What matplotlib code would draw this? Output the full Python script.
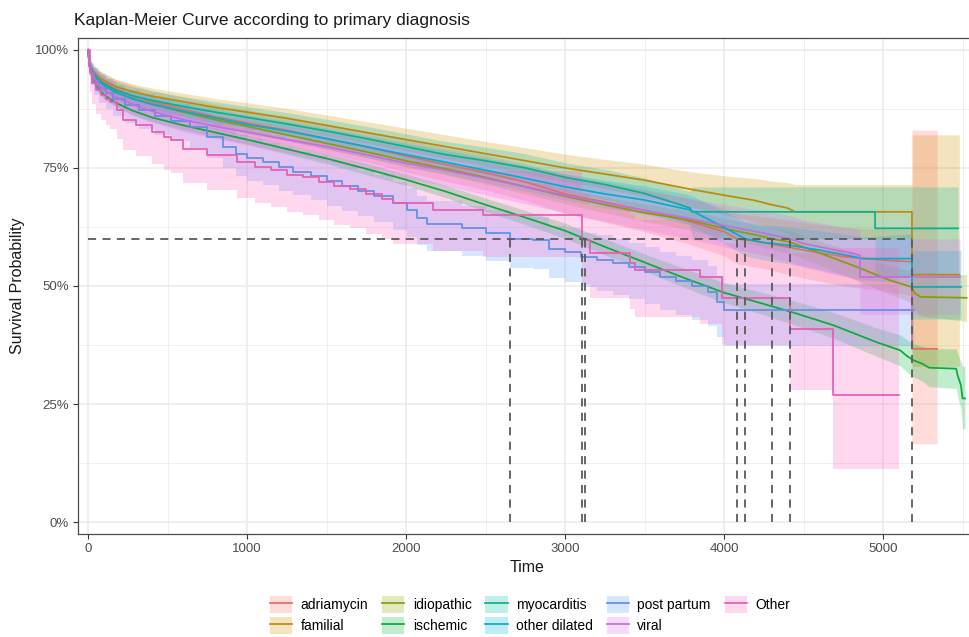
import matplotlib
matplotlib.use("Agg")
import matplotlib.pyplot as plt
from matplotlib.patches import Patch
from matplotlib.lines import Line2D
from matplotlib.colors import to_rgb

plt.rcParams['font.family'] = ['Liberation Sans', 'DejaVu Sans']

# ---------------- data ----------------
groups = ["adriamycin", "familial", "idiopathic", "ischemic", "myocarditis",
          "other dilated", "post partum", "viral", "Other"]
colors = ["#F8766D", "#D39200", "#93AA00", "#00BA38", "#00C19F",
          "#00B9E3", "#619CFF", "#DB72FB", "#FF61C3"]

t_adr = [0, 10, 30, 60, 100, 175, 275, 400, 600, 800, 1000, 1250, 1500, 1750, 2000, 2250, 2500, 2750, 3000, 3250, 3500, 3750, 4000, 4082, 4250, 4500, 4750, 5000, 5182, 5182, 5340]
s_adr = [1.0, 0.965, 0.952, 0.94, 0.93, 0.916, 0.903, 0.89, 0.874, 0.858, 0.845, 0.83, 0.812, 0.795, 0.775, 0.757, 0.74, 0.72, 0.695, 0.678, 0.66, 0.64, 0.615, 0.60, 0.592, 0.576, 0.562, 0.555, 0.551, 0.367, 0.367]
lo_adr = [1.0, 0.948, 0.933, 0.92, 0.909, 0.894, 0.88, 0.866, 0.848, 0.831, 0.817, 0.801, 0.781, 0.763, 0.741, 0.722, 0.703, 0.681, 0.654, 0.635, 0.615, 0.592, 0.564, 0.547, 0.537, 0.517, 0.5, 0.49, 0.48, 0.166, 0.166]
hi_adr = [1.0, 0.982, 0.971, 0.96, 0.951, 0.938, 0.926, 0.914, 0.9, 0.885, 0.873, 0.859, 0.843, 0.827, 0.809, 0.792, 0.777, 0.759, 0.736, 0.721, 0.705, 0.688, 0.666, 0.653, 0.647, 0.635, 0.624, 0.62, 0.62, 0.83, 0.83]

t_fam = [0, 10, 30, 60, 100, 175, 275, 400, 600, 800, 1000, 1250, 1500, 1750, 2000, 2250, 2500, 2654, 3000, 3250, 3500, 3786, 4038, 4182, 4300, 4400, 4447, 5182, 5182, 5480]
s_fam = [1.0, 0.972, 0.955, 0.945, 0.935, 0.922, 0.912, 0.902, 0.89, 0.878, 0.868, 0.855, 0.84, 0.825, 0.81, 0.795, 0.78, 0.771, 0.75, 0.737, 0.724, 0.705, 0.69, 0.682, 0.672, 0.665, 0.657, 0.657, 0.524, 0.524]
lo_fam = [1.0, 0.962, 0.943, 0.932, 0.921, 0.907, 0.896, 0.885, 0.872, 0.859, 0.848, 0.834, 0.818, 0.802, 0.786, 0.77, 0.754, 0.744, 0.721, 0.706, 0.69, 0.668, 0.648, 0.636, 0.622, 0.611, 0.60, 0.60, 0.33, 0.33]
hi_fam = [1.0, 0.982, 0.967, 0.958, 0.949, 0.937, 0.928, 0.919, 0.908, 0.897, 0.888, 0.876, 0.862, 0.848, 0.834, 0.82, 0.806, 0.798, 0.779, 0.768, 0.758, 0.742, 0.732, 0.728, 0.722, 0.719, 0.715, 0.715, 0.82, 0.82]

t_idi = [0, 10, 30, 60, 100, 175, 275, 400, 600, 800, 1000, 1250, 1500, 1750, 2000, 2250, 2500, 2750, 3000, 3250, 3500, 3786, 4000, 4200, 4302, 4415, 4600, 4800, 5044, 5180, 5200, 5233, 5526]
s_idi = [1.0, 0.97, 0.95, 0.935, 0.925, 0.91, 0.897, 0.885, 0.868, 0.852, 0.838, 0.82, 0.802, 0.784, 0.765, 0.748, 0.73, 0.71, 0.69, 0.672, 0.655, 0.639, 0.622, 0.608, 0.60, 0.593, 0.57, 0.545, 0.512, 0.498, 0.485, 0.477, 0.475]
lo_idi = [1.0, 0.965, 0.944, 0.928, 0.917, 0.902, 0.888, 0.876, 0.858, 0.842, 0.828, 0.809, 0.79, 0.772, 0.752, 0.735, 0.716, 0.695, 0.674, 0.655, 0.637, 0.619, 0.601, 0.586, 0.577, 0.569, 0.544, 0.517, 0.482, 0.465, 0.45, 0.437, 0.425]
hi_idi = [1.0, 0.975, 0.956, 0.942, 0.933, 0.918, 0.906, 0.894, 0.878, 0.862, 0.848, 0.831, 0.814, 0.796, 0.778, 0.761, 0.744, 0.725, 0.706, 0.689, 0.673, 0.659, 0.643, 0.63, 0.623, 0.617, 0.596, 0.573, 0.542, 0.531, 0.52, 0.517, 0.525]

t_isc = [0, 10, 30, 60, 100, 175, 275, 400, 600, 800, 1000, 1250, 1500, 1750, 2000, 2250, 2500, 2750, 3000, 3250, 3500, 3750, 4000, 4250, 4415, 4688, 4960, 5107, 5150, 5190, 5250, 5290, 5460, 5470, 5490, 5500, 5516]
s_isc = [1.0, 0.965, 0.94, 0.92, 0.905, 0.888, 0.872, 0.857, 0.84, 0.825, 0.81, 0.79, 0.77, 0.748, 0.725, 0.70, 0.672, 0.645, 0.617, 0.583, 0.55, 0.517, 0.486, 0.462, 0.446, 0.417, 0.381, 0.364, 0.352, 0.343, 0.335, 0.327, 0.325, 0.31, 0.29, 0.262, 0.262]
lo_isc = [1.0, 0.959, 0.933, 0.912, 0.897, 0.88, 0.863, 0.848, 0.831, 0.815, 0.80, 0.779, 0.759, 0.736, 0.713, 0.687, 0.658, 0.63, 0.601, 0.566, 0.532, 0.497, 0.465, 0.439, 0.421, 0.39, 0.351, 0.331, 0.318, 0.308, 0.298, 0.287, 0.283, 0.265, 0.24, 0.198, 0.198]
hi_isc = [1.0, 0.971, 0.947, 0.928, 0.913, 0.896, 0.881, 0.866, 0.849, 0.835, 0.82, 0.801, 0.781, 0.76, 0.737, 0.713, 0.686, 0.66, 0.633, 0.60, 0.568, 0.537, 0.507, 0.485, 0.471, 0.444, 0.411, 0.397, 0.386, 0.378, 0.372, 0.367, 0.367, 0.355, 0.34, 0.33, 0.33]

t_myo = [0, 10, 30, 60, 100, 175, 275, 400, 600, 800, 1000, 1250, 1500, 1750, 2000, 2250, 2500, 2750, 3000, 3250, 3500, 3650, 3786, 3800, 4950, 4950, 5472]
s_myo = [1.0, 0.968, 0.952, 0.94, 0.928, 0.915, 0.903, 0.893, 0.88, 0.868, 0.857, 0.843, 0.828, 0.812, 0.795, 0.778, 0.765, 0.75, 0.73, 0.715, 0.696, 0.68, 0.665, 0.657, 0.657, 0.622, 0.622]
lo_myo = [1.0, 0.955, 0.937, 0.924, 0.911, 0.897, 0.884, 0.873, 0.859, 0.846, 0.834, 0.819, 0.803, 0.786, 0.768, 0.75, 0.736, 0.72, 0.699, 0.683, 0.663, 0.646, 0.63, 0.60, 0.60, 0.52, 0.52]
hi_myo = [1.0, 0.981, 0.967, 0.956, 0.945, 0.933, 0.922, 0.913, 0.901, 0.89, 0.88, 0.867, 0.853, 0.838, 0.822, 0.806, 0.794, 0.78, 0.761, 0.747, 0.729, 0.714, 0.70, 0.71, 0.71, 0.71, 0.71]

t_odi = [0, 10, 30, 60, 100, 175, 275, 400, 600, 800, 1000, 1250, 1500, 1750, 2000, 2250, 2500, 2750, 3000, 3250, 3500, 3786, 3996, 4132, 4250, 4415, 4600, 4875, 5182, 5182, 5490]
s_odi = [1.0, 0.968, 0.95, 0.937, 0.925, 0.91, 0.897, 0.885, 0.87, 0.856, 0.842, 0.828, 0.812, 0.795, 0.778, 0.762, 0.745, 0.728, 0.71, 0.695, 0.682, 0.661, 0.625, 0.60, 0.592, 0.586, 0.576, 0.558, 0.558, 0.498, 0.498]
lo_odi = [1.0, 0.958, 0.938, 0.924, 0.911, 0.895, 0.881, 0.868, 0.852, 0.837, 0.822, 0.807, 0.79, 0.772, 0.754, 0.737, 0.719, 0.701, 0.682, 0.666, 0.652, 0.629, 0.591, 0.564, 0.555, 0.547, 0.535, 0.512, 0.505, 0.43, 0.43]
hi_odi = [1.0, 0.978, 0.962, 0.95, 0.939, 0.925, 0.913, 0.902, 0.888, 0.875, 0.862, 0.849, 0.834, 0.818, 0.802, 0.787, 0.771, 0.755, 0.738, 0.724, 0.712, 0.693, 0.659, 0.636, 0.629, 0.625, 0.617, 0.604, 0.61, 0.575, 0.575]

t_pp = [0, 8, 20, 40, 70, 110, 160, 230, 320, 420, 520, 640, 746, 850, 930, 998, 1100, 1200, 1291, 1400, 1500, 1600, 1700, 1800, 1920, 2004, 2070, 2130, 2350, 2500, 2654, 2800, 2900, 3000, 3100, 3200, 3300, 3400, 3500, 3600, 3700, 3800, 3900, 3953, 4000, 5192]
s_pp = [1.0, 0.965, 0.95, 0.935, 0.92, 0.908, 0.895, 0.883, 0.872, 0.86, 0.85, 0.836, 0.816, 0.795, 0.78, 0.77, 0.762, 0.752, 0.742, 0.732, 0.722, 0.712, 0.702, 0.69, 0.675, 0.661, 0.645, 0.632, 0.622, 0.612, 0.60, 0.597, 0.579, 0.572, 0.562, 0.556, 0.548, 0.54, 0.53, 0.52, 0.51, 0.50, 0.488, 0.466, 0.449, 0.449]
lo_pp = [1.0, 0.945, 0.925, 0.905, 0.888, 0.874, 0.859, 0.845, 0.832, 0.819, 0.808, 0.793, 0.771, 0.749, 0.733, 0.722, 0.713, 0.702, 0.692, 0.681, 0.67, 0.659, 0.648, 0.635, 0.619, 0.604, 0.587, 0.574, 0.563, 0.552, 0.539, 0.535, 0.516, 0.508, 0.497, 0.49, 0.481, 0.472, 0.461, 0.45, 0.439, 0.428, 0.415, 0.392, 0.374, 0.374]
hi_pp = [1.0, 0.982, 0.972, 0.961, 0.948, 0.938, 0.926, 0.915, 0.906, 0.895, 0.886, 0.873, 0.854, 0.834, 0.82, 0.811, 0.803, 0.794, 0.784, 0.775, 0.765, 0.756, 0.746, 0.735, 0.72, 0.707, 0.691, 0.679, 0.669, 0.66, 0.648, 0.646, 0.628, 0.622, 0.612, 0.607, 0.599, 0.592, 0.582, 0.573, 0.563, 0.554, 0.542, 0.521, 0.504, 0.504]

t_vir = [0, 10, 30, 60, 100, 175, 275, 400, 600, 800, 1000, 1250, 1500, 1750, 2000, 2250, 2500, 2750, 3000, 3250, 3500, 3750, 4000, 4250, 4415, 4500, 4600, 4700, 4800, 4855, 4855, 5484]
s_vir = [1.0, 0.962, 0.945, 0.93, 0.915, 0.9, 0.885, 0.87, 0.852, 0.838, 0.826, 0.81, 0.795, 0.778, 0.76, 0.745, 0.728, 0.71, 0.692, 0.676, 0.66, 0.645, 0.628, 0.612, 0.60, 0.59, 0.583, 0.576, 0.57, 0.565, 0.519, 0.519]
lo_vir = [1.0, 0.947, 0.928, 0.912, 0.896, 0.879, 0.863, 0.847, 0.827, 0.812, 0.799, 0.782, 0.765, 0.747, 0.728, 0.712, 0.693, 0.674, 0.655, 0.637, 0.619, 0.602, 0.583, 0.565, 0.551, 0.54, 0.532, 0.524, 0.517, 0.51, 0.44, 0.44]
hi_vir = [1.0, 0.977, 0.962, 0.948, 0.934, 0.921, 0.907, 0.893, 0.877, 0.864, 0.853, 0.838, 0.825, 0.809, 0.792, 0.778, 0.763, 0.746, 0.729, 0.715, 0.701, 0.688, 0.673, 0.659, 0.649, 0.64, 0.634, 0.628, 0.623, 0.62, 0.60, 0.60]

t_oth = [0, 10, 25, 50, 80, 110, 138, 180, 220, 300, 400, 480, 520, 600, 746, 935, 1050, 1150, 1250, 1350, 1450, 1550, 1650, 1750, 1850, 1920, 2171, 2487, 3105, 3158, 3409, 3440, 3849, 3985, 4415, 4688, 5100]
s_oth = [1.0, 0.95, 0.93, 0.915, 0.905, 0.895, 0.89, 0.872, 0.851, 0.84, 0.825, 0.815, 0.809, 0.791, 0.777, 0.763, 0.752, 0.745, 0.735, 0.73, 0.72, 0.712, 0.705, 0.695, 0.685, 0.675, 0.661, 0.65, 0.597, 0.569, 0.548, 0.533, 0.519, 0.475, 0.41, 0.27, 0.27]
lo_oth = [1.0, 0.91, 0.885, 0.865, 0.852, 0.84, 0.833, 0.812, 0.788, 0.775, 0.758, 0.746, 0.739, 0.719, 0.703, 0.687, 0.675, 0.667, 0.656, 0.65, 0.639, 0.63, 0.622, 0.611, 0.6, 0.589, 0.574, 0.561, 0.504, 0.474, 0.451, 0.435, 0.42, 0.375, 0.28, 0.113, 0.113]
hi_oth = [1.0, 0.975, 0.962, 0.952, 0.945, 0.938, 0.935, 0.921, 0.905, 0.896, 0.884, 0.876, 0.871, 0.856, 0.845, 0.834, 0.825, 0.82, 0.812, 0.808, 0.8, 0.794, 0.788, 0.78, 0.772, 0.764, 0.752, 0.744, 0.695, 0.67, 0.652, 0.639, 0.627, 0.59, 0.57, 0.58, 0.58]

# survival level of the reference lines and the times where curves reach it
ref_level = 0.6
cross_times = [2654, 3105, 3125, 4082, 4132, 4302, 4415, 5182]

x_ticks = [0, 1000, 2000, 3000, 4000, 5000]
y_ticks = [0, 0.25, 0.5, 0.75, 1.0]
y_ticklabels = ["0%", "25%", "50%", "75%", "100%"]

series = [
    (t_adr, s_adr, lo_adr, hi_adr, None),
    (t_fam, s_fam, lo_fam, hi_fam, None),
    (t_idi, s_idi, lo_idi, hi_idi, None),
    (t_isc, s_isc, lo_isc, hi_isc, None),
    (t_myo, s_myo, lo_myo, hi_myo, None),
    (t_odi, s_odi, lo_odi, hi_odi, None),
    (t_pp, s_pp, lo_pp, hi_pp, "post"),
    (t_vir, s_vir, lo_vir, hi_vir, None),
    (t_oth, s_oth, lo_oth, hi_oth, "post"),
]


def muted(c, k=0.15):
    r, g, b = to_rgb(c)
    m = 0.3
    return (r * (1 - k) + m * k, g * (1 - k) + m * k, b * (1 - k) + m * k)


line_colors = [muted(c) for c in colors]

# ---------------- figure ----------------
W, H = 970, 637
fig = plt.figure(figsize=(W / 100, H / 100), dpi=100)
ax = fig.add_axes([78 / W, 1 - 534 / H, (W - 78) / W, (534 - 38) / H])

grid_c = "#EBEBEB"
for v in [500, 1500, 2500, 3500, 4500, 5500]:
    ax.axvline(v, color=grid_c, lw=0.55, zorder=0)
for v in [0.125, 0.375, 0.625, 0.875]:
    ax.axhline(v, color=grid_c, lw=0.55, zorder=0)
for v in x_ticks:
    ax.axvline(v, color=grid_c, lw=1.1, zorder=0)
for v in y_ticks:
    ax.axhline(v, color=grid_c, lw=1.1, zorder=0)

for (t, s, lo, hi, st), c in zip(series, colors):
    if st == "post":
        ax.fill_between(t, lo, hi, step="post", color=c, alpha=0.25, lw=0, zorder=1)
    else:
        ax.fill_between(t, lo, hi, color=c, alpha=0.25, lw=0, zorder=1)

for (t, s, lo, hi, st), c in zip(series, line_colors):
    if st == "post":
        ax.step(t, s, where="post", color=c, lw=1.25, zorder=3)
    else:
        ax.plot(t, s, color=c, lw=1.25, zorder=3)

dash_c = "#5A5A5A"
ax.plot([0, max(cross_times)], [ref_level, ref_level], color=dash_c, lw=1.3,
        dashes=(4.5, 3.5), zorder=4)
for ct in cross_times:
    ax.plot([ct, ct], [0, ref_level], color=dash_c, lw=1.3, dashes=(4.5, 3.5), zorder=4)

ax.set_xlim(-63, 5547)
ax.set_ylim(-0.025, 1.025)
ax.set_xticks(x_ticks)
ax.set_xticklabels([str(v) for v in x_ticks])
ax.set_yticks(y_ticks)
ax.set_yticklabels(y_ticklabels)
ax.tick_params(axis="both", direction="out", length=3.5, width=0.8,
               color="#333333", labelcolor="#4D4D4D", labelsize=9.5, pad=3)
for side in ["left", "bottom", "top"]:
    ax.spines[side].set_color("#4D4D4D")
    ax.spines[side].set_linewidth(0.9)
ax.spines["right"].set_visible(False)
ax.set_facecolor("white")

fig.text(74 / W, 1 - 20 / H, "Kaplan-Meier Curve according to primary diagnosis",
         fontsize=12.5, ha="left", va="center", color="#1A1A1A")
fig.text(18 / W, 1 - 286 / H, "Survival Probability", rotation=90, fontsize=11.5,
         ha="center", va="center", color="#1A1A1A")
fig.text(527 / W, 1 - 567 / H, "Time", fontsize=11.5, ha="center", va="center",
         color="#1A1A1A")

handles = [(Patch(facecolor=c, alpha=0.25, edgecolor="none"),
            Line2D([], [], color=lc, lw=1.25)) for c, lc in zip(colors, line_colors)]
fig.legend(handles, groups, ncol=5, loc="center",
           bbox_to_anchor=(530 / W, 1 - 615 / H), frameon=False, fontsize=10,
           handlelength=1.6, handleheight=1.45, columnspacing=1.0,
           handletextpad=0.6, labelspacing=0.3, borderaxespad=0)

fig.savefig("out.png", dpi=100, facecolor="white")
